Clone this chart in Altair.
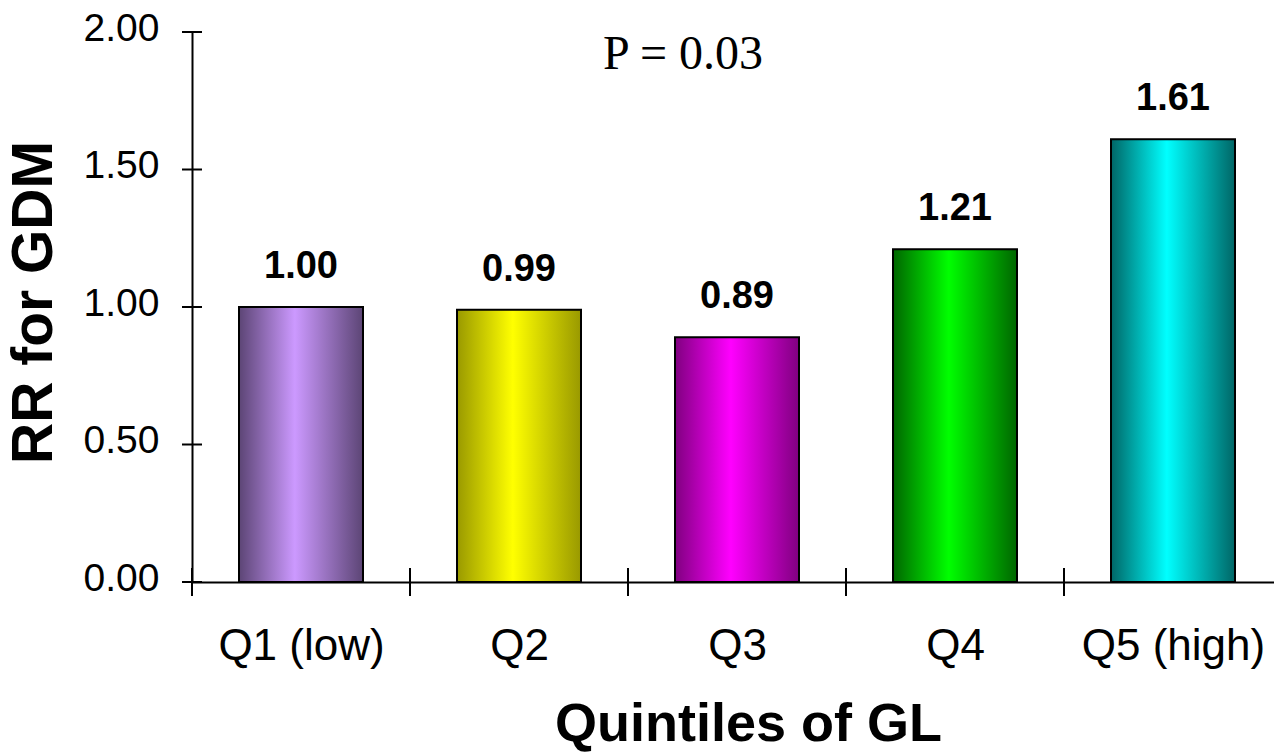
import altair as alt
import pandas as pd

# ---- data ----
categories = ["Q1 (low)", "Q2", "Q3", "Q4", "Q5 (high)"]
rr_values = [1.00, 0.99, 0.89, 1.21, 1.61]
light_colors = ["#CC99FF", "#FFFF00", "#FF00FF", "#00FF00", "#00FFFF"]
dark_colors = ["#5C4575", "#999900", "#800080", "#006600", "#006666"]
y_tick_values = [0.0, 0.5, 1.0, 1.5, 2.0]
p_text = "P = 0.03"
x_title = "Quintiles of GL"
y_title = "RR for GDM"

W, H = 1082, 550
FONT = "Liberation Sans"

df = pd.DataFrame({"q": categories, "rr": rr_values, "i": list(range(len(categories)))})
bounds_df = pd.DataFrame({"b": [k - 0.5 for k in range(len(categories) + 1)]})
yt_df = pd.DataFrame({"v": y_tick_values})

xs = alt.Scale(domain=[-0.5, -0.5 + W / 218.0], nice=False, zero=False)
ys = alt.Scale(domain=[0, 2], nice=False)

label_expr = "[" + ",".join("'" + c + "'" for c in categories) + "][datum.value]"

x_axis = alt.Axis(
    values=list(range(len(categories))), labelExpr=label_expr, grid=False,
    ticks=False, tickSize=0, domainColor="black", domainWidth=2,
    labelFont=FONT, labelFontSize=44, labelColor="black", labelPadding=42,
    labelLimit=0,
    title=x_title, titleFont=FONT, titleFontSize=54, titleFontWeight="bold",
    titleColor="black", titleX=556, titleY=158, titleAlign="center",
    titleBaseline="alphabetic", labelFlush=False, labelOverlap=False,
)
y_axis = alt.Axis(
    values=y_tick_values, format=".2f", grid=False, ticks=False, tickSize=0,
    domainColor="black", domainWidth=2,
    labelFont=FONT, labelFontSize=39, labelColor="black", labelPadding=33,
    labelOffset=-4,
    title=y_title, titleFont=FONT, titleFontSize=57, titleFontWeight="bold",
    titleColor="black", titleAngle=270, titleX=-158, titleY=270,
    titleAlign="center", titleBaseline="middle", labelFlush=False,
)

base = alt.Chart(df).transform_calculate(
    x0="datum.i - 0.2844", x1="datum.i + 0.2844"
)

layers = []
for cat, lc, dc in zip(categories, light_colors, dark_colors):
    grad = alt.LinearGradient(
        gradient="linear",
        stops=[alt.GradientStop(color=dc, offset=0),
               alt.GradientStop(color=lc, offset=0.45),
               alt.GradientStop(color=dc, offset=1)],
        x1=0, x2=1, y1=0, y2=0,
    )
    layers.append(
        base.transform_filter(alt.datum.q == cat)
        .mark_bar(color=grad, stroke="black", strokeWidth=2)
        .encode(
            x=alt.X("x0:Q", scale=xs, axis=x_axis),
            x2="x1:Q",
            y=alt.Y("rr:Q", scale=ys, axis=y_axis),
            y2=alt.datum(0),
        )
    )

labels = alt.Chart(df).mark_text(
    font=FONT, fontSize=38, fontWeight="bold", color="black",
    baseline="alphabetic", align="center", dy=-29,
).encode(
    x=alt.X("i:Q", scale=xs, axis=x_axis),
    y=alt.Y("rr:Q", scale=ys, axis=y_axis),
    text=alt.Text("rr:Q", format=".2f"),
)

x_ticks = alt.Chart(bounds_df).mark_rule(color="black", strokeWidth=2).encode(
    x=alt.X("b:Q", scale=xs, axis=x_axis),
    y=alt.value(H - 14), y2=alt.value(H + 14),
)

y_ticks = alt.Chart(yt_df).mark_rule(color="black", strokeWidth=2).encode(
    y=alt.Y("v:Q", scale=ys, axis=y_axis),
    x=alt.value(-10), x2=alt.value(10),
)

chart = alt.layer(*layers, labels, x_ticks, y_ticks).properties(
    width=W, height=H,
    autosize=alt.AutoSizeParams(type="none"),
    padding={"left": 192, "top": 32, "right": 0, "bottom": 754 - 32 - H},
    background="white",
    title=alt.TitleParams(
        text=p_text, font="Liberation Serif", fontSize=48, fontWeight="normal",
        color="black", anchor="middle", frame="group", dx=-50, dy=108,
        offset=0, baseline="alphabetic",
    ),
).configure_view(stroke=None)

chart.save("out.html", embed_options={"renderer": "svg", "actions": False})
